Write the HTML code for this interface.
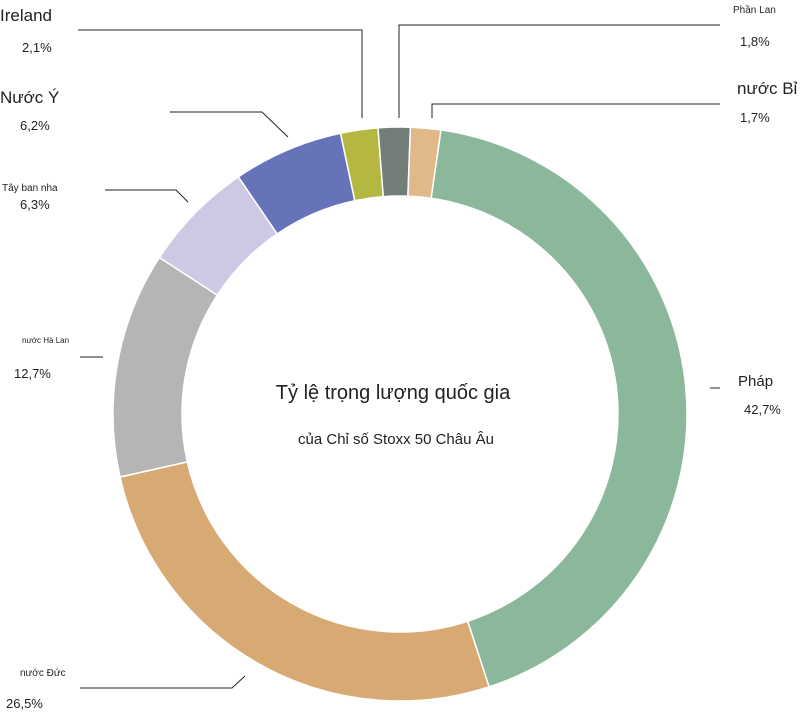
<!DOCTYPE html>
<html><head><meta charset="utf-8"><style>
html,body{margin:0;padding:0;background:#fff;}
svg{display:block;font-family:"Liberation Sans",sans-serif;}
</style></head><body>
<svg width="800" height="715" viewBox="0 0 800 715" xmlns="http://www.w3.org/2000/svg">
<g id="ring" stroke="#fff" stroke-width="1.5"></g>
<g fill="none" stroke="#222" stroke-width="1">
<polyline points="78,30 362,30 362,118"/>
<polyline points="399,118 399,25 720,25"/>
<polyline points="432,118 432,104 720,104"/>
<polyline points="170,112 262,112 288,137"/>
<polyline points="105,190 176,190 188,202"/>
<polyline points="80,357 103,357"/>
<polyline points="80,688 232,688 245,676"/>
<polyline points="710,388 720,388"/>
</g>
<g fill="#222">
<text x="0" y="21" font-size="17">Ireland</text>
<text x="22" y="52" font-size="13">2,1%</text>
<text x="0" y="103" font-size="17">Nước Ý</text>
<text x="20" y="130" font-size="13">6,2%</text>
<text x="2" y="191" font-size="10">Tây ban nha</text>
<text x="20" y="209" font-size="13">6,3%</text>
<text x="22" y="343" font-size="8">nước Hà Lan</text>
<text x="14" y="378" font-size="13">12,7%</text>
<text x="20" y="676" font-size="10">nước Đức</text>
<text x="6" y="708" font-size="13">26,5%</text>
<text x="738" y="386" font-size="15">Pháp</text>
<text x="744" y="414" font-size="13">42,7%</text>
<text x="733" y="13" font-size="10">Phần Lan</text>
<text x="740" y="46" font-size="13">1,8%</text>
<text x="737" y="94" font-size="17">nước Bỉ</text>
<text x="740" y="122" font-size="13">1,7%</text>
<text x="393" y="399" font-size="20" text-anchor="middle">Tỷ lệ trọng lượng quốc gia</text>
<text x="396" y="444" font-size="15" text-anchor="middle">của Chỉ số Stoxx 50 Châu Âu</text>
</g>
<script>
(function(){
var d=[[42.7,"#8bb89a"],[26.5,"#d6aa72"],[12.7,"#b5b5b5"],[6.3,"#cdc8e3"],[6.2,"#6673b8"],[2.1,"#b5b840"],[1.8,"#747e78"],[1.7,"#e0b88a"]];
var cx=400,cy=414,R=287,r=218,a=8.2,g=document.getElementById("ring");
function p(ang,rad){var t=ang*Math.PI/180;return [cx+rad*Math.sin(t),cy-rad*Math.cos(t)];}
d.forEach(function(s){var b=a+s[0]*3.6,l=(b-a)>180?1:0;
var p1=p(a,R),p2=p(b,R),p3=p(b,r),p4=p(a,r);
var e=document.createElementNS("http://www.w3.org/2000/svg","path");
e.setAttribute("d","M"+p1+"A"+R+","+R+" 0 "+l+" 1 "+p2+"L"+p3+"A"+r+","+r+" 0 "+l+" 0 "+p4+"Z");
e.setAttribute("fill",s[1]);g.appendChild(e);a=b;});
})();
</script>
</svg>
</body></html>
